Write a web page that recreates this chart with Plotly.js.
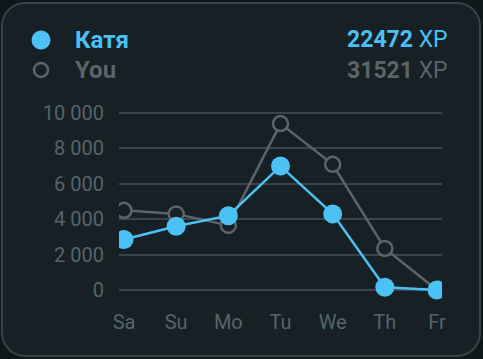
<!DOCTYPE html>
<html><head><meta charset="utf-8">
<script src="https://cdn.plot.ly/plotly-3.0.1.min.js"></script>
<style>
html,body{margin:0;padding:0;background:#10171b;width:483px;height:359px;overflow:hidden}
#card{position:absolute;left:1px;top:2px;width:476px;height:351px;border:2px solid #384147;border-radius:24px;background:#162025}
#chart{position:absolute;left:0;top:0;width:483px;height:359px}
</style></head><body>
<div id="card"></div>
<div id="chart"></div>
<script>
const days = ["Sa","Su","Mo","Tu","We","Th","Fr"];
const katya = [2850, 3600, 4200, 7000, 4300, 150, 0];
const you = [4500, 4300, 3650, 9400, 7100, 2350, 0];
const yTicks = [0, 2000, 4000, 6000, 8000, 10000];
const yTickText = ["0", "2 000", "4 000", "6 000", "8 000", "10 000"];
const names = ["Катя","You"];
const totals = [22472, 31521];

const BLUE = "#4cc1f6", GRAY = "#5b6469", BG = "#162025";
const W = 483, H = 359, L = 119, R = 41, T = 100, B = 59;
const px = x => (x - L) / (W - L - R);
const py = y => (H - B - y) / (H - T - B);

const traces = [
  {x: days, y: you, type: "scatter", mode: "lines+markers", name: names[1],
   line: {color: GRAY, width: 2.5},
   marker: {size: 15, color: BG, line: {color: GRAY, width: 2.5}}},
  {x: days, y: katya, type: "scatter", mode: "lines+markers", name: names[0],
   line: {color: BLUE, width: 2.5},
   marker: {size: 19, color: BLUE}}
];

const layout = {
  width: W, height: H,
  margin: {l: L, r: R, t: T, b: B},
  paper_bgcolor: "rgba(0,0,0,0)", plot_bgcolor: "rgba(0,0,0,0)",
  showlegend: false,
  font: {family: "Roboto, sans-serif", color: "#56646b", size: 20},
  xaxis: {type: "category", range: [-0.096, 6.096], showgrid: false, zeroline: false,
          showline: false, ticks: "", ticklabelstandoff: 8, ticklabeloverflow: "allow",
          fixedrange: true},
  yaxis: {range: [-565, 10734], tickvals: yTicks, ticktext: yTickText,
          showgrid: true, gridcolor: "#3a444a", gridwidth: 2, zeroline: false,
          showline: false, ticks: "", ticklabelstandoff: 14, fixedrange: true},
  shapes: [
    {type: "circle", xref: "paper", yref: "paper", xsizemode: "pixel", ysizemode: "pixel",
     xanchor: px(41), yanchor: py(40), x0: -9.5, x1: 9.5, y0: -9.5, y1: 9.5,
     fillcolor: BLUE, line: {width: 0}},
    {type: "circle", xref: "paper", yref: "paper", xsizemode: "pixel", ysizemode: "pixel",
     xanchor: px(41), yanchor: py(70), x0: -7, x1: 7, y0: -7, y1: 7,
     fillcolor: "rgba(0,0,0,0)", line: {width: 2.5, color: GRAY}}
  ],
  annotations: [
    {xref: "paper", yref: "paper", x: px(73), y: py(40), xanchor: "left", yanchor: "middle",
     text: "<b>" + names[0] + "</b>", showarrow: false, font: {size: 24, color: BLUE}},
    {xref: "paper", yref: "paper", x: px(73), y: py(70), xanchor: "left", yanchor: "middle",
     text: "<b>" + names[1] + "</b>", showarrow: false, font: {size: 24, color: GRAY}},
    {xref: "paper", yref: "paper", x: px(450), y: py(40), xanchor: "right", yanchor: "middle",
     text: "<b>" + totals[0] + "</b> XP", showarrow: false, font: {size: 23, color: BLUE}},
    {xref: "paper", yref: "paper", x: px(450), y: py(70), xanchor: "right", yanchor: "middle",
     text: "<b>" + totals[1] + "</b> XP", showarrow: false, font: {size: 23, color: GRAY}}
  ]
};
Plotly.newPlot("chart", traces, layout, {displayModeBar: false, staticPlot: true});
</script></body></html>
